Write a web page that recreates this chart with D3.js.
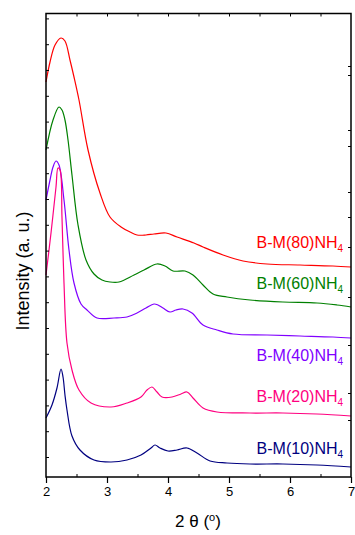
<!DOCTYPE html>
<html><head><meta charset="utf-8">
<script src="https://cdn.jsdelivr.net/npm/d3@7"></script>
<style>body{margin:0;background:#fff}svg{display:block}</style>
</head><body>
<script>
// 2θ (degrees) and intensity (a.u.)
const s80 = [[2.000,395],[2.066,415],[2.148,432],[2.246,439],[2.311,436],[2.393,417],[2.459,400],[2.541,377],[2.689,327],[2.885,284],[3.049,260],[3.230,250],[3.377,245],[3.492,242],[3.639,242],[3.770,243],[3.967,244],[4.148,240],[4.426,234],[4.574,230],[4.902,222],[5.230,216],[5.623,213],[6.164,212],[6.705,211],[7.000,210]];
const s60 = [[2.000,327],[2.115,357],[2.213,370],[2.262,367],[2.311,357],[2.361,337],[2.426,302],[2.525,252],[2.656,217],[2.787,203],[2.918,197],[3.049,195],[3.197,195],[3.443,202],[3.607,207],[3.820,213],[3.951,211],[4.082,206],[4.279,206],[4.410,202],[4.574,192],[4.738,183],[4.967,180],[5.344,177],[5.885,175],[6.443,174],[6.770,172],[7.000,170]];
const s40 = [[2.000,277],[2.066,297],[2.115,310],[2.164,316],[2.213,312],[2.295,277],[2.377,227],[2.459,194],[2.574,173],[2.672,167],[2.836,159],[3.115,159],[3.328,160],[3.492,164],[3.639,169],[3.770,173],[3.836,172],[3.918,169],[4.033,165],[4.131,167],[4.246,168],[4.393,164],[4.574,152],[4.803,147],[5.066,143],[5.623,142],[6.164,141],[6.705,140],[7.000,139]];
const s20 = [[2.000,202],[2.082,244],[2.164,290],[2.197,309],[2.230,307],[2.262,260],[2.295,194],[2.344,134],[2.426,107],[2.541,87],[2.738,74],[3.066,70],[3.328,74],[3.557,80],[3.656,87],[3.738,90],[3.820,85],[3.902,80],[4.066,80],[4.213,83],[4.311,85],[4.410,79],[4.574,69],[4.803,65],[5.344,64],[5.885,64],[6.443,63],[7.000,61]];
const s10 = [[2.000,59],[2.098,72],[2.180,89],[2.246,108],[2.279,100],[2.311,82],[2.344,67],[2.426,41],[2.557,27],[2.787,17],[3.066,15],[3.328,17],[3.557,22],[3.721,29],[3.787,32],[3.869,29],[4.000,26],[4.148,27],[4.311,29],[4.475,24],[4.689,16],[4.967,14],[5.344,13],[5.885,13],[6.443,12],[7.000,10]];
const seriesNames = ["B-M(80)NH", "B-M(60)NH", "B-M(40)NH", "B-M(20)NH", "B-M(10)NH"];
const seriesColors = ["#ff0000", "#008000", "#8000ff", "#ff0080", "#000080"];
const labelLevels = [229, 188, 116, 75, 23];   // a.u. baseline of each label
const xTicks = [2, 3, 4, 5, 6, 7];
const rightTicks = [411, 402, 347, 331, 285, 260, 230, 180, 132, 84, 57];

const seriesData = [s80, s60, s40, s20, s10];
const W = 355, H = 535;
const m = {l: 46, r: 4, t: 13.5, b: 58};
const svg = d3.select("body").append("svg").attr("width", W).attr("height", H);
svg.append("rect").attr("width", W).attr("height", H).attr("fill", "#fff");

const x = d3.scaleLinear().domain([2, 7]).range([m.l, W - m.r]);
const y = d3.scaleLinear().domain([0, 463.5]).range([H - m.b, m.t]);

const line = d3.line().x(d => x(d[0])).y(d => y(d[1])).curve(d3.curveCatmullRom.alpha(0.5));
const g = svg.append("g");
seriesData.forEach((s, i) => {
  g.append("path").datum(s).attr("d", line).attr("fill", "none")
    .attr("stroke", seriesColors[i]).attr("stroke-width", 1.2);
});

const font = "Liberation Sans, Arial, sans-serif";
// labels
seriesNames.forEach((n, i) => {
  const t = svg.append("text").attr("x", x(6.87)).attr("y", y(labelLevels[i]))
    .attr("text-anchor", "end").attr("fill", seriesColors[i])
    .attr("font-family", font).attr("font-size", 16);
  t.append("tspan").text(n);
  t.append("tspan").attr("font-size", 10).attr("dy", 4).text("4");
});

// axes
const bottomAx = svg.append("g").attr("transform", `translate(0,${H - m.b})`)
  .call(d3.axisBottom(x).tickValues(xTicks).tickSize(6).tickPadding(4).tickFormat(d3.format("d")));
bottomAx.select(".domain").remove();
bottomAx.selectAll("text").attr("font-family", font).attr("font-size", 13).attr("fill", "#000");
bottomAx.selectAll("line").attr("stroke-width", 1.2);
const bottomMinor = svg.append("g").attr("transform", `translate(0,${H - m.b})`)
  .call(d3.axisTop(x).tickValues([2.5, 3.5, 4.5, 5.5, 6.5]).tickSize(3).tickFormat(""));
bottomMinor.select(".domain").remove();

const topAx = svg.append("g").attr("transform", `translate(0,${m.t})`)
  .call(d3.axisBottom(x).tickValues(d3.range(2.5, 7, 0.5)).tickSize(3).tickFormat(""));
topAx.select(".domain").remove();

const leftTicks = d3.range(20, 463, 25.8);
const leftAx = svg.append("g").attr("transform", `translate(${m.l},0)`)
  .call(d3.axisRight(y).tickValues(leftTicks).tickSize(3).tickFormat(""));
leftAx.select(".domain").remove();
const rightAx = svg.append("g").attr("transform", `translate(${W - m.r},0)`)
  .call(d3.axisLeft(y).tickValues(rightTicks).tickSize(3).tickFormat(""));
rightAx.select(".domain").remove();

svg.append("rect").attr("x", m.l).attr("y", m.t).attr("width", W - m.r - m.l).attr("height", H - m.b - m.t)
  .attr("fill", "none").attr("stroke", "#000").attr("stroke-width", 1.5);

// titles
const xt = svg.append("text").attr("x", 198).attr("y", 527).attr("text-anchor", "middle")
  .attr("font-family", font).attr("font-size", 17).attr("fill", "#000");
xt.append("tspan").text("2 θ (");
xt.append("tspan").attr("font-size", 11).attr("dy", -6).text("o");
xt.append("tspan").attr("dy", 6).text(")");

svg.append("text").attr("transform", "translate(29,271) rotate(-90)").attr("text-anchor", "middle")
  .attr("font-family", font).attr("font-size", 18).attr("fill", "#000").text("Intensity (a. u.)");
</script>
</body></html>
